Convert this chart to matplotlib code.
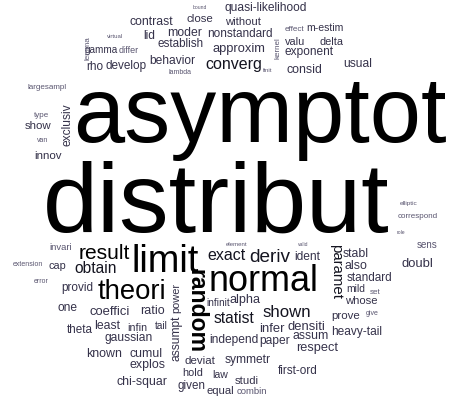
import numpy as np
import matplotlib
matplotlib.use("Agg")
import matplotlib.pyplot as plt
from matplotlib.textpath import TextPath
from matplotlib.font_manager import FontProperties

# ---- data: words and their relative frequencies (font weight of the cloud) ----
words = ["distribut", "asymptot", "limit", "normal", "theori", "random", "result",
         "deriv", "exact", "shown", "statist", "converg", "obtain", "paramet",
         "approxim", "behavior", "independ", "standard", "heavy-tail",
         "quasi-likelihood", "contrast", "close", "without", "moder", "nonstandard",
         "lid", "establish", "gamma", "differ", "rho", "develop", "m-estim", "valu",
         "delta", "exponent", "consid", "usual", "innov", "show", "exclusiv",
         "gaussian", "chi-squar", "known", "cumul", "explos", "coeffici", "ratio",
         "theta", "least", "infin", "tail", "provid", "one", "cap", "invari",
         "assumpt", "power", "infer", "densiti", "paper", "assum", "respect",
         "deviat", "symmetr", "hold", "law", "studi", "given", "equal", "combin",
         "first-ord", "ident", "infinit", "alpha", "stabl", "sens", "doubl", "also",
         "mild", "whose", "prove",
         "bound", "virtual", "lambda", "largesampl", "finit", "effect", "lemma",
         "kernel", "type", "van", "elliptic", "correspond", "role", "extension",
         "error", "element", "valid", "set", "give"]
freqs = [99, 92, 38, 36, 27.5, 23, 21,
         19, 16, 16.7, 15.5, 16, 15.5, 15,
         12.9, 12, 12, 11.8, 11.9,
         12, 12.3, 11.5, 11.3, 12.3, 11.7,
         12, 11.6, 10, 9, 11.7, 11.7, 10.5, 11,
         11, 11.9, 12.4, 12, 11.5, 11.5, 12,
         12, 12.4, 12.4, 12.3, 12.4, 13, 12.5,
         11.6, 12.2, 10.7, 10, 11.7, 12, 11, 9.5,
         12, 11, 13, 13, 12, 12.2, 12.8,
         11.5, 12, 11, 10.5, 11.3, 11.6, 11.3, 9.5,
         11.7, 12, 10, 12.6, 12.2, 9.8, 13, 12.4,
         10.2, 11.3, 11.5,
         5, 6, 7, 8, 6, 8, 8,
         8, 8, 7, 6.5, 8, 5, 7,
         7, 6, 5, 8, 7]

# ---- layout of the cloud (pixel positions of each word centre, rotation) ----
layout = {
    "distribut": (217.5, 196, 0), "asymptot": (261, 121.5, 0), "limit": (166, 258, 0),
    "normal": (263.5, 278, 0), "theori": (131.5, 289.5, 0), "random": (198, 311, -90),
    "result": (105, 251.5, 0), "deriv": (270, 255, 0), "exact": (227, 255, 0),
    "shown": (286.5, 311, 0), "statist": (234, 317, 0), "converg": (233.5, 66, 0),
    "obtain": (95, 267, 0), "paramet": (335, 272, -90), "approxim": (239, 49, 0),
    "behavior": (172.5, 60, 0), "independ": (234, 340, 0), "standard": (369.5, 277, 0),
    "heavy-tail": (357, 332, 0), "quasi-likelihood": (266, 8, 0), "contrast": (151.5, 21, 0),
    "close": (200, 18, 0), "without": (242.5, 21, 0), "moder": (185, 32, 0),
    "nonstandard": (240, 33, 0), "lid": (149, 35, 0), "establish": (180.5, 43, 0),
    "gamma": (101.5, 51, 0), "differ": (128.5, 50, 0), "rho": (95, 66, 0),
    "develop": (125.5, 66, 0), "m-estim": (325, 27, 0), "valu": (295, 41, 0),
    "delta": (331.5, 41, 0), "exponent": (309, 52, 0), "consid": (304.5, 69, 0),
    "usual": (357.5, 63, 0), "innov": (48.5, 155, 0), "show": (38.5, 125, 0),
    "exclusiv": (66, 124, 90), "gaussian": (128.5, 338, 0), "chi-squar": (142, 382, 0),
    "known": (104.5, 353, 0), "cumul": (146, 353, 0), "explos": (147.5, 365, 0),
    "coeffici": (109, 310, 0), "ratio": (152.5, 310, 0), "theta": (79.5, 329, 0),
    "least": (107.5, 325, 0), "infin": (137.5, 327, 0), "tail": (161, 325, 0),
    "provid": (77.5, 288, 0), "one": (67, 308, 0), "cap": (57.5, 267, 0),
    "invari": (61, 247, 0), "assumpt": (177, 338, 90), "power": (177, 298, 90),
    "infer": (272.5, 327, 0), "densiti": (306.5, 325, 0), "paper": (275, 342, 0),
    "assum": (310.5, 336, 0), "respect": (317.5, 348, 0), "deviat": (200, 360, 0),
    "symmetr": (247.5, 360, 0), "hold": (193, 372, 0), "law": (220.5, 374, 0),
    "studi": (246.5, 380, 0), "given": (191.5, 386, 0), "equal": (220.5, 391, 0),
    "combin": (252, 391, 0), "first-ord": (297.5, 370, 0), "ident": (307.5, 256, 0),
    "infinit": (218.5, 302, 0), "alpha": (245, 300, 0), "stabl": (355.5, 253, 0),
    "sens": (427, 245, 0), "doubl": (417.5, 262, 0), "also": (356, 265, 0),
    "mild": (356, 288, 0), "whose": (361, 300, 0), "prove": (346, 317, 0),
    "bound": (200, 7, 0), "virtual": (114.5, 36, 0), "lambda": (180, 71, 0),
    "largesampl": (47.5, 87, 0), "finit": (267.5, 70, 0), "effect": (294, 28, 0),
    "lemma": (87, 48, 90), "kernel": (277, 48, 90), "type": (41.5, 115, 0),
    "van": (42.5, 140, 0), "elliptic": (409, 203, 0), "correspond": (417.5, 216, 0),
    "role": (401, 232, 0), "extension": (27.5, 263, 0), "error": (41.5, 281, 0),
    "element": (237, 244, 0), "valid": (302.5, 244, 0), "set": (375, 291, 0),
    "give": (372.5, 313, 0),
}
bold_words = {"random"}

W, H, DPI = 449, 403, 100
fig = plt.figure(figsize=(W / DPI, H / DPI), dpi=DPI)
ax = fig.add_axes([0, 0, 1, 1])
ax.set_xlim(0, W)
ax.set_ylim(H, 0)
ax.axis("off")


def colour_for(size):
    if size >= 20:
        return "#000000"
    if size >= 14:
        return "#141420"
    if size >= 10:
        return "#35324a"
    return "#5a5670"


for word, size in zip(words, freqs):
    cx, cy, rot = layout[word]
    fp = FontProperties(family="Liberation Sans",
                        weight="bold" if word in bold_words else "normal")
    ext = TextPath((0, 0), word, size=100, prop=fp).get_extents()
    k = size / 100.0
    xc = (ext.x0 + ext.x1) / 2 * k
    yc = (ext.y0 + ext.y1) / 2 * k
    th = np.deg2rad(rot)
    rx = xc * np.cos(th) - yc * np.sin(th)
    ry = xc * np.sin(th) + yc * np.cos(th)
    ax.text(cx - rx, cy + ry, word, fontproperties=fp, fontsize=size * 72 / DPI,
            rotation=rot, rotation_mode="anchor", ha="left", va="baseline",
            color=colour_for(size))

fig.savefig("out.png", dpi=DPI, facecolor="white")
